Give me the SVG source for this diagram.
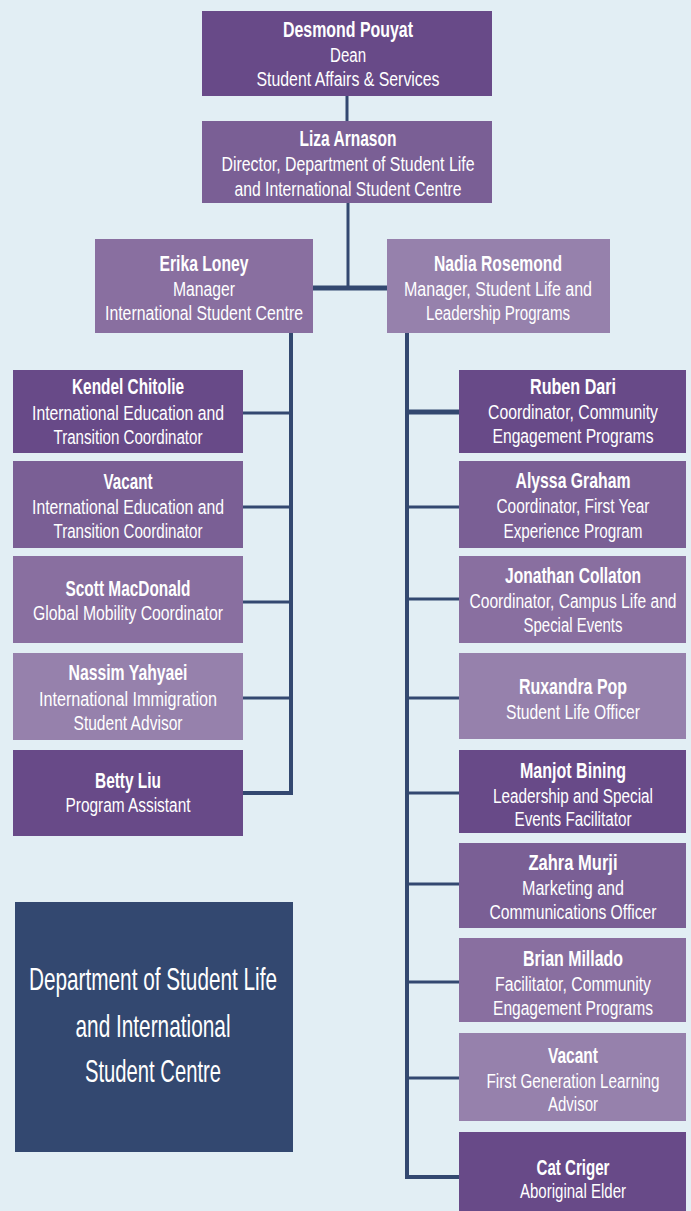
<svg xmlns="http://www.w3.org/2000/svg" width="691" height="1211" viewBox="0 0 691 1211">
<style>
.bg{fill:#e2eef4}
.c1{fill:#684a88}
.c2{fill:#7a5f95}
.c3{fill:#896fa0}
.c4{fill:#9681ac}
.dept{fill:#334870}
text{fill:#ffffff;font-family:"Liberation Sans Narrow","Liberation Sans",Arial,sans-serif;text-anchor:middle}
.n{font-size:22px;font-weight:bold}
.t{font-size:20px}
.d{font-size:32px}
.ln{stroke:#334870;fill:none;stroke-linejoin:miter}
</style>
<rect class="bg" x="0" y="0" width="691" height="1211"/>
<g id="connectors">
<path class="ln" stroke-width="3" d="M347,96 V121"/>
<path class="ln" stroke-width="3" d="M348,203 V288"/>
<path class="ln" stroke-width="5" d="M313,288 H387"/>
<path class="ln" stroke-width="4" d="M291,333 V793 H243"/>
<path class="ln" stroke-width="3" d="M243,413 H291"/>
<path class="ln" stroke-width="3" d="M243,507 H291"/>
<path class="ln" stroke-width="3" d="M243,602 H291"/>
<path class="ln" stroke-width="3" d="M243,698 H291"/>
<path class="ln" stroke-width="4" d="M407,333 V1177 H459"/>
<path class="ln" stroke-width="5" d="M407,412 H459"/>
<path class="ln" stroke-width="3" d="M407,507 H459"/>
<path class="ln" stroke-width="3" d="M407,599 H459"/>
<path class="ln" stroke-width="3" d="M407,698 H459"/>
<path class="ln" stroke-width="3" d="M407,793 H459"/>
<path class="ln" stroke-width="3" d="M407,884 H459"/>
<path class="ln" stroke-width="3" d="M407,982 H459"/>
<path class="ln" stroke-width="3" d="M407,1078 H459"/>
</g>
<g id="dean">
<rect class="c1" x="202" y="11" width="290" height="85"/>
<text class="n" x="348" y="37" textLength="130" lengthAdjust="spacingAndGlyphs">Desmond Pouyat</text>
<text class="t" x="348" y="62" textLength="36" lengthAdjust="spacingAndGlyphs">Dean</text>
<text class="t" x="348" y="86" textLength="183" lengthAdjust="spacingAndGlyphs">Student Affairs &amp; Services</text>
</g>
<g id="liza">
<rect class="c2" x="202" y="121" width="290" height="82"/>
<text class="n" x="348" y="146" textLength="97" lengthAdjust="spacingAndGlyphs">Liza Arnason</text>
<text class="t" x="348" y="171" textLength="253" lengthAdjust="spacingAndGlyphs">Director, Department of Student Life</text>
<text class="t" x="348" y="196" textLength="227" lengthAdjust="spacingAndGlyphs">and International Student Centre</text>
</g>
<g id="erika">
<rect class="c3" x="95" y="239" width="218" height="94"/>
<text class="n" x="204" y="271" textLength="89" lengthAdjust="spacingAndGlyphs">Erika Loney</text>
<text class="t" x="204" y="296" textLength="62" lengthAdjust="spacingAndGlyphs">Manager</text>
<text class="t" x="204" y="320" textLength="198" lengthAdjust="spacingAndGlyphs">International Student Centre</text>
</g>
<g id="nadia">
<rect class="c4" x="387" y="239" width="223" height="94"/>
<text class="n" x="498" y="271" textLength="128" lengthAdjust="spacingAndGlyphs">Nadia Rosemond</text>
<text class="t" x="498" y="296" textLength="188" lengthAdjust="spacingAndGlyphs">Manager, Student Life and</text>
<text class="t" x="498" y="320" textLength="144" lengthAdjust="spacingAndGlyphs">Leadership Programs</text>
</g>
<g id="kendel">
<rect class="c1" x="13" y="370" width="230" height="83"/>
<text class="n" x="128" y="394" textLength="112" lengthAdjust="spacingAndGlyphs">Kendel Chitolie</text>
<text class="t" x="128" y="420" textLength="192" lengthAdjust="spacingAndGlyphs">International Education and</text>
<text class="t" x="128" y="444" textLength="149" lengthAdjust="spacingAndGlyphs">Transition Coordinator</text>
</g>
<g id="vacant-left">
<rect class="c2" x="13" y="461" width="230" height="87"/>
<text class="n" x="128" y="489" textLength="49" lengthAdjust="spacingAndGlyphs">Vacant</text>
<text class="t" x="128" y="514" textLength="192" lengthAdjust="spacingAndGlyphs">International Education and</text>
<text class="t" x="128" y="538" textLength="149" lengthAdjust="spacingAndGlyphs">Transition Coordinator</text>
</g>
<g id="scott">
<rect class="c3" x="13" y="556" width="230" height="87"/>
<text class="n" x="128" y="596" textLength="125" lengthAdjust="spacingAndGlyphs">Scott MacDonald</text>
<text class="t" x="128" y="620" textLength="190" lengthAdjust="spacingAndGlyphs">Global Mobility Coordinator</text>
</g>
<g id="nassim">
<rect class="c4" x="13" y="653" width="230" height="87"/>
<text class="n" x="128" y="680" textLength="119" lengthAdjust="spacingAndGlyphs">Nassim Yahyaei</text>
<text class="t" x="128" y="706" textLength="178" lengthAdjust="spacingAndGlyphs">International Immigration</text>
<text class="t" x="128" y="730" textLength="109" lengthAdjust="spacingAndGlyphs">Student Advisor</text>
</g>
<g id="betty">
<rect class="c1" x="13" y="750" width="230" height="86"/>
<text class="n" x="128" y="788" textLength="66" lengthAdjust="spacingAndGlyphs">Betty Liu</text>
<text class="t" x="128" y="812" textLength="125" lengthAdjust="spacingAndGlyphs">Program Assistant</text>
</g>
<g id="ruben">
<rect class="c1" x="459" y="370" width="227" height="83"/>
<text class="n" x="573" y="394" textLength="86" lengthAdjust="spacingAndGlyphs">Ruben Dari</text>
<text class="t" x="573" y="419" textLength="170" lengthAdjust="spacingAndGlyphs">Coordinator, Community</text>
<text class="t" x="573" y="443" textLength="161" lengthAdjust="spacingAndGlyphs">Engagement Programs</text>
</g>
<g id="alyssa">
<rect class="c2" x="459" y="461" width="227" height="87"/>
<text class="n" x="573" y="488" textLength="115" lengthAdjust="spacingAndGlyphs">Alyssa Graham</text>
<text class="t" x="573" y="513" textLength="153" lengthAdjust="spacingAndGlyphs">Coordinator, First Year</text>
<text class="t" x="573" y="538" textLength="139" lengthAdjust="spacingAndGlyphs">Experience Program</text>
</g>
<g id="jonathan">
<rect class="c3" x="459" y="556" width="227" height="87"/>
<text class="n" x="573" y="583" textLength="136" lengthAdjust="spacingAndGlyphs">Jonathan Collaton</text>
<text class="t" x="573" y="608" textLength="207" lengthAdjust="spacingAndGlyphs">Coordinator, Campus Life and</text>
<text class="t" x="573" y="632" textLength="99" lengthAdjust="spacingAndGlyphs">Special Events</text>
</g>
<g id="ruxandra">
<rect class="c4" x="459" y="653" width="227" height="86"/>
<text class="n" x="573" y="694" textLength="108" lengthAdjust="spacingAndGlyphs">Ruxandra Pop</text>
<text class="t" x="573" y="719" textLength="134" lengthAdjust="spacingAndGlyphs">Student Life Officer</text>
</g>
<g id="manjot">
<rect class="c1" x="459" y="750" width="227" height="83"/>
<text class="n" x="573" y="778" textLength="106" lengthAdjust="spacingAndGlyphs">Manjot Bining</text>
<text class="t" x="573" y="803" textLength="160" lengthAdjust="spacingAndGlyphs">Leadership and Special</text>
<text class="t" x="573" y="826" textLength="117" lengthAdjust="spacingAndGlyphs">Events Facilitator</text>
</g>
<g id="zahra">
<rect class="c2" x="459" y="843" width="227" height="85"/>
<text class="n" x="573" y="870" textLength="89" lengthAdjust="spacingAndGlyphs">Zahra Murji</text>
<text class="t" x="573" y="895" textLength="102" lengthAdjust="spacingAndGlyphs">Marketing and</text>
<text class="t" x="573" y="919" textLength="167" lengthAdjust="spacingAndGlyphs">Communications Officer</text>
</g>
<g id="brian">
<rect class="c3" x="459" y="938" width="227" height="84"/>
<text class="n" x="573" y="966" textLength="100" lengthAdjust="spacingAndGlyphs">Brian Millado</text>
<text class="t" x="573" y="991" textLength="156" lengthAdjust="spacingAndGlyphs">Facilitator, Community</text>
<text class="t" x="573" y="1015" textLength="160" lengthAdjust="spacingAndGlyphs">Engagement Programs</text>
</g>
<g id="vacant-right">
<rect class="c4" x="459" y="1033" width="227" height="88"/>
<text class="n" x="573" y="1063" textLength="50" lengthAdjust="spacingAndGlyphs">Vacant</text>
<text class="t" x="573" y="1088" textLength="173" lengthAdjust="spacingAndGlyphs">First Generation Learning</text>
<text class="t" x="573" y="1111" textLength="50" lengthAdjust="spacingAndGlyphs">Advisor</text>
</g>
<g id="cat">
<rect class="c1" x="459" y="1132" width="227" height="85"/>
<text class="n" x="573" y="1175" textLength="73" lengthAdjust="spacingAndGlyphs">Cat Criger</text>
<text class="t" x="573" y="1198" textLength="106" lengthAdjust="spacingAndGlyphs">Aboriginal Elder</text>
</g>
<g id="department">
<rect class="dept" x="15" y="902" width="278" height="250"/>
<text class="d" x="153" y="990" textLength="248" lengthAdjust="spacingAndGlyphs">Department of Student Life</text>
<text class="d" x="153" y="1037" textLength="155" lengthAdjust="spacingAndGlyphs">and International</text>
<text class="d" x="153" y="1082" textLength="136" lengthAdjust="spacingAndGlyphs">Student Centre</text>
</g>
</svg>
